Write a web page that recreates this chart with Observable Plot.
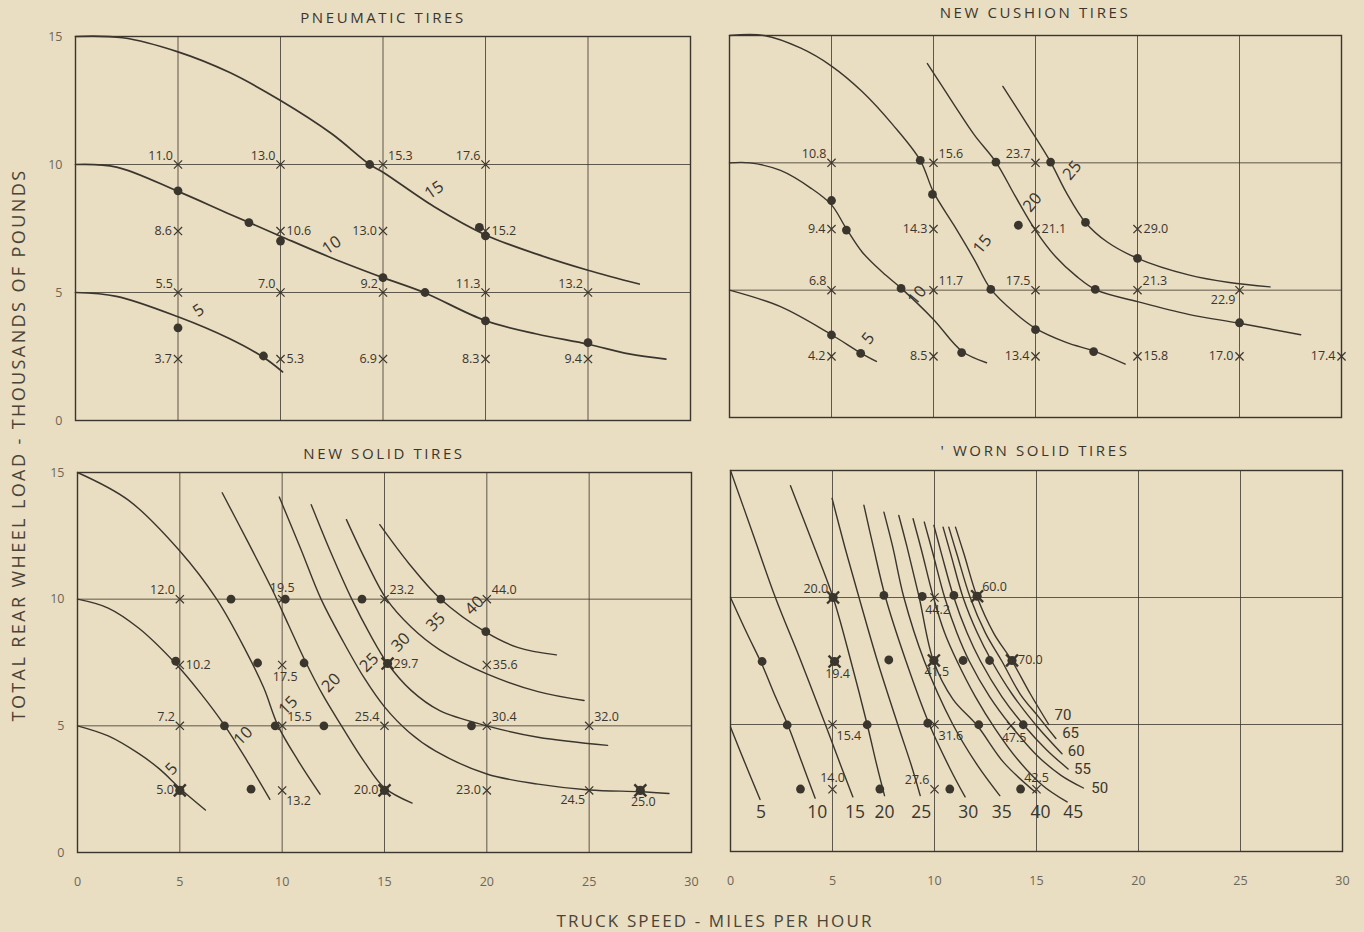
<!DOCTYPE html>
<html>
<head>
<meta charset="utf-8">
<script src="https://cdn.jsdelivr.net/npm/d3@7"></script>
<script src="https://cdn.jsdelivr.net/npm/@observablehq/plot@0.6"></script>
<style>
  html, body { margin: 0; padding: 0; background: #e9ddc2; }
  #chart { position: relative; width: 1364px; height: 932px; background: #e9ddc2; overflow: hidden;
           font-family: "Open Sans", "DejaVu Sans", sans-serif; color: #3b362d; }
  .panel { position: absolute; }
  .title { position: absolute; transform: translate(-50%, -50%); white-space: nowrap;
           font-size: 15px; letter-spacing: 2.6px; color: #3b362d; }
  .ytitle { position: absolute; left: 18px; top: 445px; transform: translate(-50%, -50%) rotate(-90deg);
            white-space: nowrap; font-size: 18px; letter-spacing: 2.4px; color: #4a4438; }
  .xtitle { position: absolute; left: 715px; top: 920px; transform: translate(-50%, -50%);
            white-space: nowrap; font-size: 17px; letter-spacing: 2.1px; color: #4a4438; }
</style>
</head>
<body>
<div id="chart"></div>
<script>
// ---------- shared ticks ----------
const speedTicks = [0, 5, 10, 15, 20, 25, 30];
const loadTicks = [0, 5, 10, 15];
const gridSpeeds = [5, 10, 15, 20, 25];
const gridLoads = [5, 10];

// ---------- PNEUMATIC TIRES ----------
const pneuCurves = {
  5:  [[0,5],[2,4.85],[5,4.05],[7.5,3.2],[9.2,2.45],[10.1,1.9]],
  10: [[0,10],[2,9.9],[5,8.95],[7.5,8.07],[10,7.2],[12.5,6.35],[15,5.58],[17,5.0],[20,3.9],[22.5,3.38],[25,2.98],[27,2.6],[28.8,2.4]],
  15: [[0,15],[2.3,14.95],[5,14.4],[7.5,13.6],[10,12.5],[12.5,11.2],[14.35,10.0],[15,9.7],[17.5,8.35],[20,7.25],[22.5,6.5],[25,5.87],[27.5,5.33]]
};
const pneuCurveLabels = [[6.0,4.3,"5"],[12.5,6.85,"10"],[17.5,9.0,"15"]];
const pneuDots = [[14.35,10.0],[5,8.97],[8.46,7.73],[10,7.01],[19.7,7.54],[20,7.21],[15,5.58],[17.05,5.0],[20,3.89],[25,3.04],[5,3.62],[9.17,2.52]];
const pneuMarks = [
  [5,10,"11.0","la"],[10,10,"13.0","la"],[15,10,"15.3","ra"],[20,10,"17.6","la"],
  [5,7.4,"8.6","l"],[10,7.4,"10.6","r"],[15,7.4,"13.0","l"],[20,7.4,"15.2","r"],
  [5,5,"5.5","la"],[10,5,"7.0","la"],[15,5,"9.2","la"],[20,5,"11.3","la"],[25,5,"13.2","la"],
  [5,2.4,"3.7","l"],[10,2.4,"5.3","r"],[15,2.4,"6.9","l"],[20,2.4,"8.3","l"],[25,2.4,"9.4","l"]
];

// ---------- NEW CUSHION TIRES ----------
const cushCurves = {
  5:  [[0,5],[2.5,4.35],[5,3.25],[6.4,2.55],[7.2,2.2]],
  10: [[0,10],[1,10],[2.5,9.7],[4,9.0],[5,8.35],[5.7,7.45],[6.5,6.5],[7.5,5.7],[8.45,5.05],[10,3.85],[11.4,2.6],[12.6,2.15]],
  15: [[0,15],[1.7,15],[3.5,14.5],[5,13.8],[6.5,12.8],[8,11.5],[9.35,10.1],[10,8.85],[11,7.55],[12,6.2],[12.8,5.05],[14,4.1],[15,3.5],[16.5,2.95],[17.9,2.6],[19.4,2.1]],
  20: [[9.7,13.9],[11,12.3],[12,11.1],[13.06,10.03],[14,8.7],[15,7.35],[16,6.3],[17,5.55],[18,5.0],[20,4.55],[22.5,4.05],[25,3.7],[28,3.25]],
  25: [[13.4,13.0],[14.6,11.5],[15.74,10.03],[16.5,8.85],[17.45,7.66],[18.5,6.9],[20,6.25],[22.5,5.6],[24.5,5.3],[26.5,5.13]]
};
const cushCurveLabels = [[6.8,3.1,"5"],[9.2,4.8,"10"],[12.4,6.8,"15"],[14.85,8.45,"20"],[16.8,9.7,"25"]];
const cushDots = [[9.35,10.1],[13.06,10.03],[15.74,10.03],[9.95,8.76],[5,8.52],[5.73,7.36],[14.16,7.55],[17.45,7.66],[20,6.25],
  [8.41,5.07],[12.81,5.03],[17.93,5.03],[25,3.72],[5,3.24],[15,3.45],[6.43,2.52],[11.38,2.55],[17.85,2.59]];
const cushMarks = [
  [5,10,"10.8","la"],[10,10,"15.6","ra"],[15,10,"23.7","la"],
  [5,7.4,"9.4","l"],[10,7.4,"14.3","l"],[15,7.4,"21.1","r"],[20,7.4,"29.0","r"],
  [5,5,"6.8","la"],[10,5,"11.7","ra"],[15,5,"17.5","la"],[20,5,"21.3","ra"],[25,5,"22.9","lb"],
  [5,2.4,"4.2","l"],[10,2.4,"8.5","l"],[15,2.4,"13.4","l"],[20,2.4,"15.8","r"],[25,2.4,"17.0","l"],[30,2.4,"17.4","l"]
];

// ---------- NEW SOLID TIRES ----------
const solidCurves = {
  5:  [[0,5],[1.5,4.6],[3,3.9],[4,3.3],[5.05,2.5],[6.25,1.68]],
  10: [[0,10],[1.5,9.65],[3,8.85],[4.8,7.45],[6,6.3],[7.2,5.0],[8.3,3.6],[9.4,2.1]],
  15: [[0,15],[2.5,13.9],[5,11.9],[6.8,10],[8.2,8.0],[9.1,6.5],[9.8,5.0],[10.8,3.6],[11.85,2.3]],
  20: [[7.07,14.2],[8.3,12.3],[9.5,10.4],[10.3,9.0],[11.1,7.6],[12,6.2],[12.9,5.0],[14,3.6],[15,2.55],[16.35,1.95]],
  25: [[9.86,14.03],[10.9,12.0],[11.9,10.0],[13,8.3],[14,6.9],[15,5.75],[16.2,4.75],[17.5,4.0],[20,3.1],[22.5,2.7],[25,2.47],[27.5,2.4],[28.9,2.33]],
  30: [[11.42,13.73],[12.4,11.8],[13.4,10.0],[14.3,8.6],[15.15,7.46],[16.3,6.4],[17.7,5.6],[20,5.0],[22.5,4.55],[25.9,4.23]],
  35: [[13.14,13.14],[14.1,11.5],[15.1,10.0],[16.3,8.9],[17.7,8.0],[20,7.05],[22.5,6.35],[24.75,6.0]],
  40: [[14.77,12.94],[16.2,11.4],[17.75,10.0],[19.95,8.7],[21.5,8.1],[23.4,7.8]]
};
const solidCurveLabels = [[4.6,3.3,"5"],[8.1,4.6,"10"],[10.3,5.8,"15"],[12.4,6.7,"20"],[14.25,7.5,"25"],[15.8,8.3,"30"],[17.5,9.1,"35"],[19.4,9.75,"40"]];
const solidDots = [[7.5,10.0],[10.15,10.0],[13.9,10.0],[17.75,10.0],[4.8,7.55],[8.8,7.48],[11.07,7.48],[19.95,8.72],
  [7.18,5.0],[9.66,5.0],[12.04,5.0],[19.25,5.0],[8.48,2.5]];
const solidMarks = [
  [5,10,"12.0","la"],[10,10,"19.5","a"],[15,10,"23.2","ra"],[20,10,"44.0","ra"],
  [5,7.4,"10.2","r"],[10,7.4,"17.5","b"],[20,7.4,"35.6","r"],
  [5,5,"7.2","la"],[10,5,"15.5","ra"],[15,5,"25.4","la"],[20,5,"30.4","ra"],[25,5,"32.0","ra"],
  [10,2.45,"13.2","rb"],[20,2.45,"23.0","l"],[25,2.45,"24.5","lb"]
];
const solidHeavy = [[5,2.45,"5.0","l"],[15,2.45,"20.0","l"],[15.15,7.46,"29.7","r"],[27.5,2.45,"25.0","b"]];

// ---------- WORN SOLID TIRES ----------
const wornCurves = {
  5:  [[0,4.9],[0.7,3.5],[1.45,2.05]],
  10: [[0,10],[0.8,8.6],[1.55,7.35],[2.2,6.1],[2.8,5.0],[3.5,3.5],[4.15,2.1]],
  15: [[0,15],[1.1,12.5],[2.2,10],[3.45,7.5],[4.65,5.0],[5.4,3.4],[6.0,2.15]],
  20: [[2.94,14.4],[4.0,12.2],[5.03,10],[5.9,7.5],[6.7,5.0],[7.2,3.3],[7.55,2.2]],
  25: [[4.98,13.9],[5.6,12.0],[6.3,10],[7.2,7.5],[8.2,5.0],[8.9,3.3],[9.3,2.2]],
  30: [[6.54,13.63],[7.0,12.0],[7.6,10.0],[8.6,7.5],[9.75,5.0],[10.8,3.2],[11.5,2.15]],
  35: [[7.52,13.36],[7.95,12.0],[8.5,10.0],[9.5,7.5],[10.9,5.0],[12.1,3.4],[13.2,2.2]],
  40: [[8.25,13.23],[8.65,12.0],[9.25,10.0],[9.95,7.5],[10.9,6.0],[12.1,4.95],[13.4,3.5],[15.0,2.3]],
  45: [[8.95,13.1],[9.35,11.9],[9.95,10.0],[10.5,8.6],[11.1,7.5],[12.0,6.1],[13.0,4.8],[14.1,3.6],[15.3,2.6],[16.5,1.95]],
  50: [[9.5,12.97],[9.9,11.8],[10.5,10.0],[11.1,8.6],[11.7,7.5],[12.7,6.1],[13.75,4.95],[15.0,3.8],[16.2,3.0],[17.3,2.5]],
  55: [[9.97,12.84],[10.35,11.7],[10.95,10.0],[11.6,8.6],[12.25,7.5],[13.3,6.1],[14.4,4.95],[15.5,4.0],[16.55,3.25]],
  60: [[10.42,12.77],[10.8,11.7],[11.4,10.0],[12.1,8.6],[12.8,7.5],[13.8,6.2],[15.0,4.95],[16.25,3.85]],
  65: [[10.7,12.77],[11.1,11.7],[11.75,10.0],[12.5,8.6],[13.3,7.5],[14.2,6.2],[15.1,5.3],[15.95,4.45]],
  70: [[11.03,12.77],[11.45,11.7],[12.1,10.0],[12.9,8.6],[13.8,7.5],[14.7,6.2],[15.6,5.0]]
};
// labels along the foot of the family, and the stacked labels at the right-hand ends
const wornFootLabels = [[1.5,1.55,"5"],[4.25,1.55,"10"],[6.1,1.55,"15"],[7.55,1.55,"20"],[9.35,1.55,"25"],[11.65,1.55,"30"],
  [13.3,1.55,"35"],[15.2,1.55,"40"],[16.8,1.55,"45"]];
const wornEndLabels = [[18.1,2.5,"50"],[17.25,3.24,"55"],[16.95,3.96,"60"],[16.67,4.66,"65"],[16.3,5.38,"70"]];
const wornDots = [[7.52,10.08],[9.4,10.04],[10.95,10.08],[1.55,7.48],[7.76,7.54],[11.4,7.52],[12.7,7.52],
  [2.78,4.98],[6.7,4.99],[9.67,5.05],[12.17,4.99],[14.35,4.99],[3.43,2.46],[7.32,2.46],[10.75,2.46],[14.22,2.46]];
const wornMarks = [
  [10,10,"44.2","b"],
  [5,5,"15.4","rb"],[10,5,"31.6","rb"],[13.75,4.95,"47.5","b"],
  [5,2.45,"14.0","a"],[10,2.45,"27.6","la"],[15,2.45,"42.5","a"]
];
const wornHeavy = [[5.03,10.0,"20.0","la"],[12.09,10.05,"60.0","ra"],[5.1,7.48,"19.4","b"],[9.97,7.52,"41.5","b"],[13.8,7.52,"70.0","r"]];

// ---------- drawing ----------
const INK = "#3b362d";
const SOFT = "#6d6657";
const FONT = "'Open Sans', 'DejaVu Sans', sans-serif";

const SIDES = {
  l:  {textAnchor: "end",    dx: -6, dy: 0},
  r:  {textAnchor: "start",  dx: 6,  dy: 0},
  la: {textAnchor: "end",    dx: -5, dy: -9},
  ra: {textAnchor: "start",  dx: 5,  dy: -9},
  a:  {textAnchor: "middle", dx: 0,  dy: -11},
  b:  {textAnchor: "middle", dx: 3,  dy: 12},
  lb: {textAnchor: "end",    dx: -4, dy: 10},
  rb: {textAnchor: "start",  dx: 4,  dy: 11}
};

const curveRows = curves => Object.entries(curves)
  .flatMap(([load, pts]) => pts.map(([x, y]) => ({load: +load, x, y})));

function valueLabels(marks) {
  return Object.entries(SIDES).map(([side, o]) =>
    Plot.text(marks.filter(d => d[3] === side), {
      x: d => d[0], y: d => d[1], text: d => d[2], fontSize: 12.5, fill: INK, ...o
    }));
}

function curveText(labels, size, tilt, family) {
  return Plot.text(labels, {x: d => d[0], y: d => d[1], text: d => d[2], rotate: tilt,
    fontSize: size, fill: INK, fontFamily: family || FONT});
}

function panel(cfg) {
  const heavy = cfg.heavy || [];
  const marks = [
    Plot.gridX(gridSpeeds, {stroke: INK, strokeOpacity: 0.8, strokeWidth: 1}),
    Plot.gridY(gridLoads, {stroke: INK, strokeOpacity: 0.8, strokeWidth: 1}),
    Plot.frame({stroke: INK, strokeWidth: 1.4}),
    Plot.line(curveRows(cfg.curves), {x: "x", y: "y", z: "load", curve: "catmull-rom", stroke: INK, strokeWidth: cfg.lineWidth || 1.4}),
    Plot.dot(cfg.dots, {x: d => d[0], y: d => d[1], r: 4.4, fill: INK}),
    Plot.dot(cfg.marks, {x: d => d[0], y: d => d[1], symbol: "times", r: 3.8, stroke: INK, strokeWidth: 1.2}),
    Plot.dot(heavy, {x: d => d[0], y: d => d[1], r: 4.6, fill: INK}),
    Plot.dot(heavy, {x: d => d[0], y: d => d[1], symbol: "times", r: 5.5, stroke: INK, strokeWidth: 2.4}),
    ...valueLabels(cfg.marks),
    ...valueLabels(heavy),
    ...cfg.labelMarks
  ];
  if (cfg.yAxis) marks.push(Plot.axisY(loadTicks, {anchor: "left", tickSize: 0, tickPadding: 13, fontSize: 12.5, color: SOFT, label: null}));
  if (cfg.xAxis) marks.push(Plot.axisX(speedTicks, {anchor: "bottom", tickSize: 0, tickPadding: 25, fontSize: 12.5, color: SOFT, label: null}));

  const svg = Plot.plot({
    width: cfg.width, height: cfg.height,
    marginLeft: cfg.m[0], marginRight: cfg.m[1], marginTop: cfg.m[2], marginBottom: cfg.m[3],
    x: {domain: [0, 30], axis: null},
    y: {domain: [0, 15], axis: null},
    style: {background: "transparent", color: INK, fontFamily: FONT},
    marks
  });
  const box = document.createElement("div");
  box.className = "panel";
  box.style.left = cfg.left + "px";
  box.style.top = cfg.top + "px";
  box.appendChild(svg);
  chart.appendChild(box);

  const t = document.createElement("div");
  t.className = "title";
  t.textContent = cfg.title;
  t.style.left = cfg.titleAt[0] + "px";
  t.style.top = cfg.titleAt[1] + "px";
  chart.appendChild(t);
}

const chart = document.getElementById("chart");

panel({title: "PNEUMATIC TIRES", titleAt: [383, 17], left: 0, top: 0, width: 700, height: 440, m: [75, 10, 36, 20],
  curves: pneuCurves, dots: pneuDots, marks: pneuMarks, lineWidth: 1.7, yAxis: true,
  labelMarks: [curveText(pneuCurveLabels, 16.5, -35)]});
panel({title: "NEW CUSHION TIRES", titleAt: [1035, 12], left: 700, top: 0, width: 664, height: 440, m: [29, 23, 35, 23],
  curves: cushCurves, dots: cushDots, marks: cushMarks,
  labelMarks: [curveText(cushCurveLabels, 16.5, -50)]});
panel({title: "NEW SOLID TIRES", titleAt: [384, 453], left: 0, top: 440, width: 700, height: 460, m: [77, 9, 32, 48],
  curves: solidCurves, dots: solidDots, marks: solidMarks, heavy: solidHeavy, yAxis: true, xAxis: true,
  labelMarks: [curveText(solidCurveLabels, 16.5, -45)]});
panel({title: "' WORN SOLID TIRES", titleAt: [1035, 450], left: 700, top: 440, width: 664, height: 460, m: [30, 22, 30, 49],
  curves: wornCurves, dots: wornDots, marks: wornMarks, heavy: wornHeavy, xAxis: true,
  labelMarks: [curveText(wornFootLabels, 17.5, 0), curveText(wornEndLabels, 15, 0, "Roboto, 'Open Sans', sans-serif")]});

const yt = document.createElement("div");
yt.className = "ytitle";
yt.textContent = "TOTAL REAR WHEEL LOAD - THOUSANDS OF POUNDS";
chart.appendChild(yt);

const xt = document.createElement("div");
xt.className = "xtitle";
xt.textContent = "TRUCK SPEED - MILES PER HOUR";
chart.appendChild(xt);
</script>
</body>
</html>
